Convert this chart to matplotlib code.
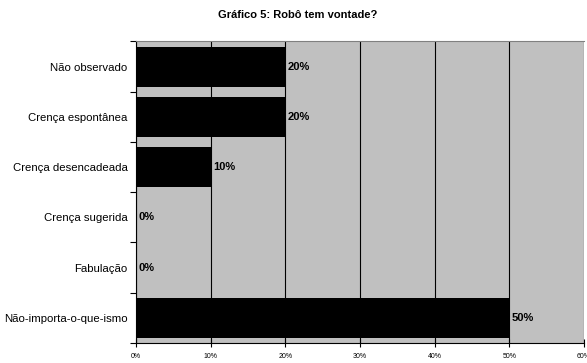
import matplotlib.pyplot as plt
from matplotlib.ticker import PercentFormatter

plt.rcParams['font.family'] = ['Liberation Sans', 'DejaVu Sans']

categorias = ["Não observado", "Crença espontânea", "Crença desencadeada",
              "Crença sugerida", "Fabulação", "Não-importa-o-que-ismo"]
valores = [20, 20, 10, 0, 0, 50]
rotulos = ["20%", "20%", "10%", "0%", "0%", "50%"]

fig = plt.figure(figsize=(5.87, 3.63), dpi=100)
ax = fig.add_axes([0.2317, 0.0551, 0.763, 0.8306])
ax.set_facecolor("#c0c0c0")

pos = list(range(len(categorias)))
ax.barh(pos, valores, height=0.8, color="black", zorder=3)

# rótulos de valor ao lado de cada barra
for p, v, r in zip(pos, valores, rotulos):
    ax.text(v + 0.3, p, r, va="center", ha="left", fontsize=8,
            fontweight="bold", zorder=4)

ax.set_xlim(0, 60)
ax.set_ylim(len(categorias) - 0.5, -0.5)
ax.set_xticks(range(0, 61, 10))
ax.xaxis.set_major_formatter(PercentFormatter(decimals=0))
ax.tick_params(axis="x", labelsize=5, direction="inout", length=6, width=0.8, pad=4)

ax.set_yticks(pos)
ax.set_yticklabels(categorias, fontsize=8.2)
ax.set_yticks([p + 0.5 for p in range(-1, len(categorias))], minor=True)
ax.tick_params(axis="y", which="major", length=0, pad=6)
ax.tick_params(axis="y", which="minor", length=4, width=0.8, direction="out")

ax.grid(axis="x", color="black", linewidth=0.8, zorder=1)
ax.set_axisbelow(True)

ax.spines["right"].set_visible(False)
ax.spines["top"].set_color("#808080")
ax.spines["left"].set_color("black")
ax.spines["bottom"].set_color("black")

fig.text(0.507, 0.96, "Gráfico 5: Robô tem vontade?", ha="center", va="center",
         fontsize=8, fontweight="bold")

fig.savefig("out.png", dpi=100)
